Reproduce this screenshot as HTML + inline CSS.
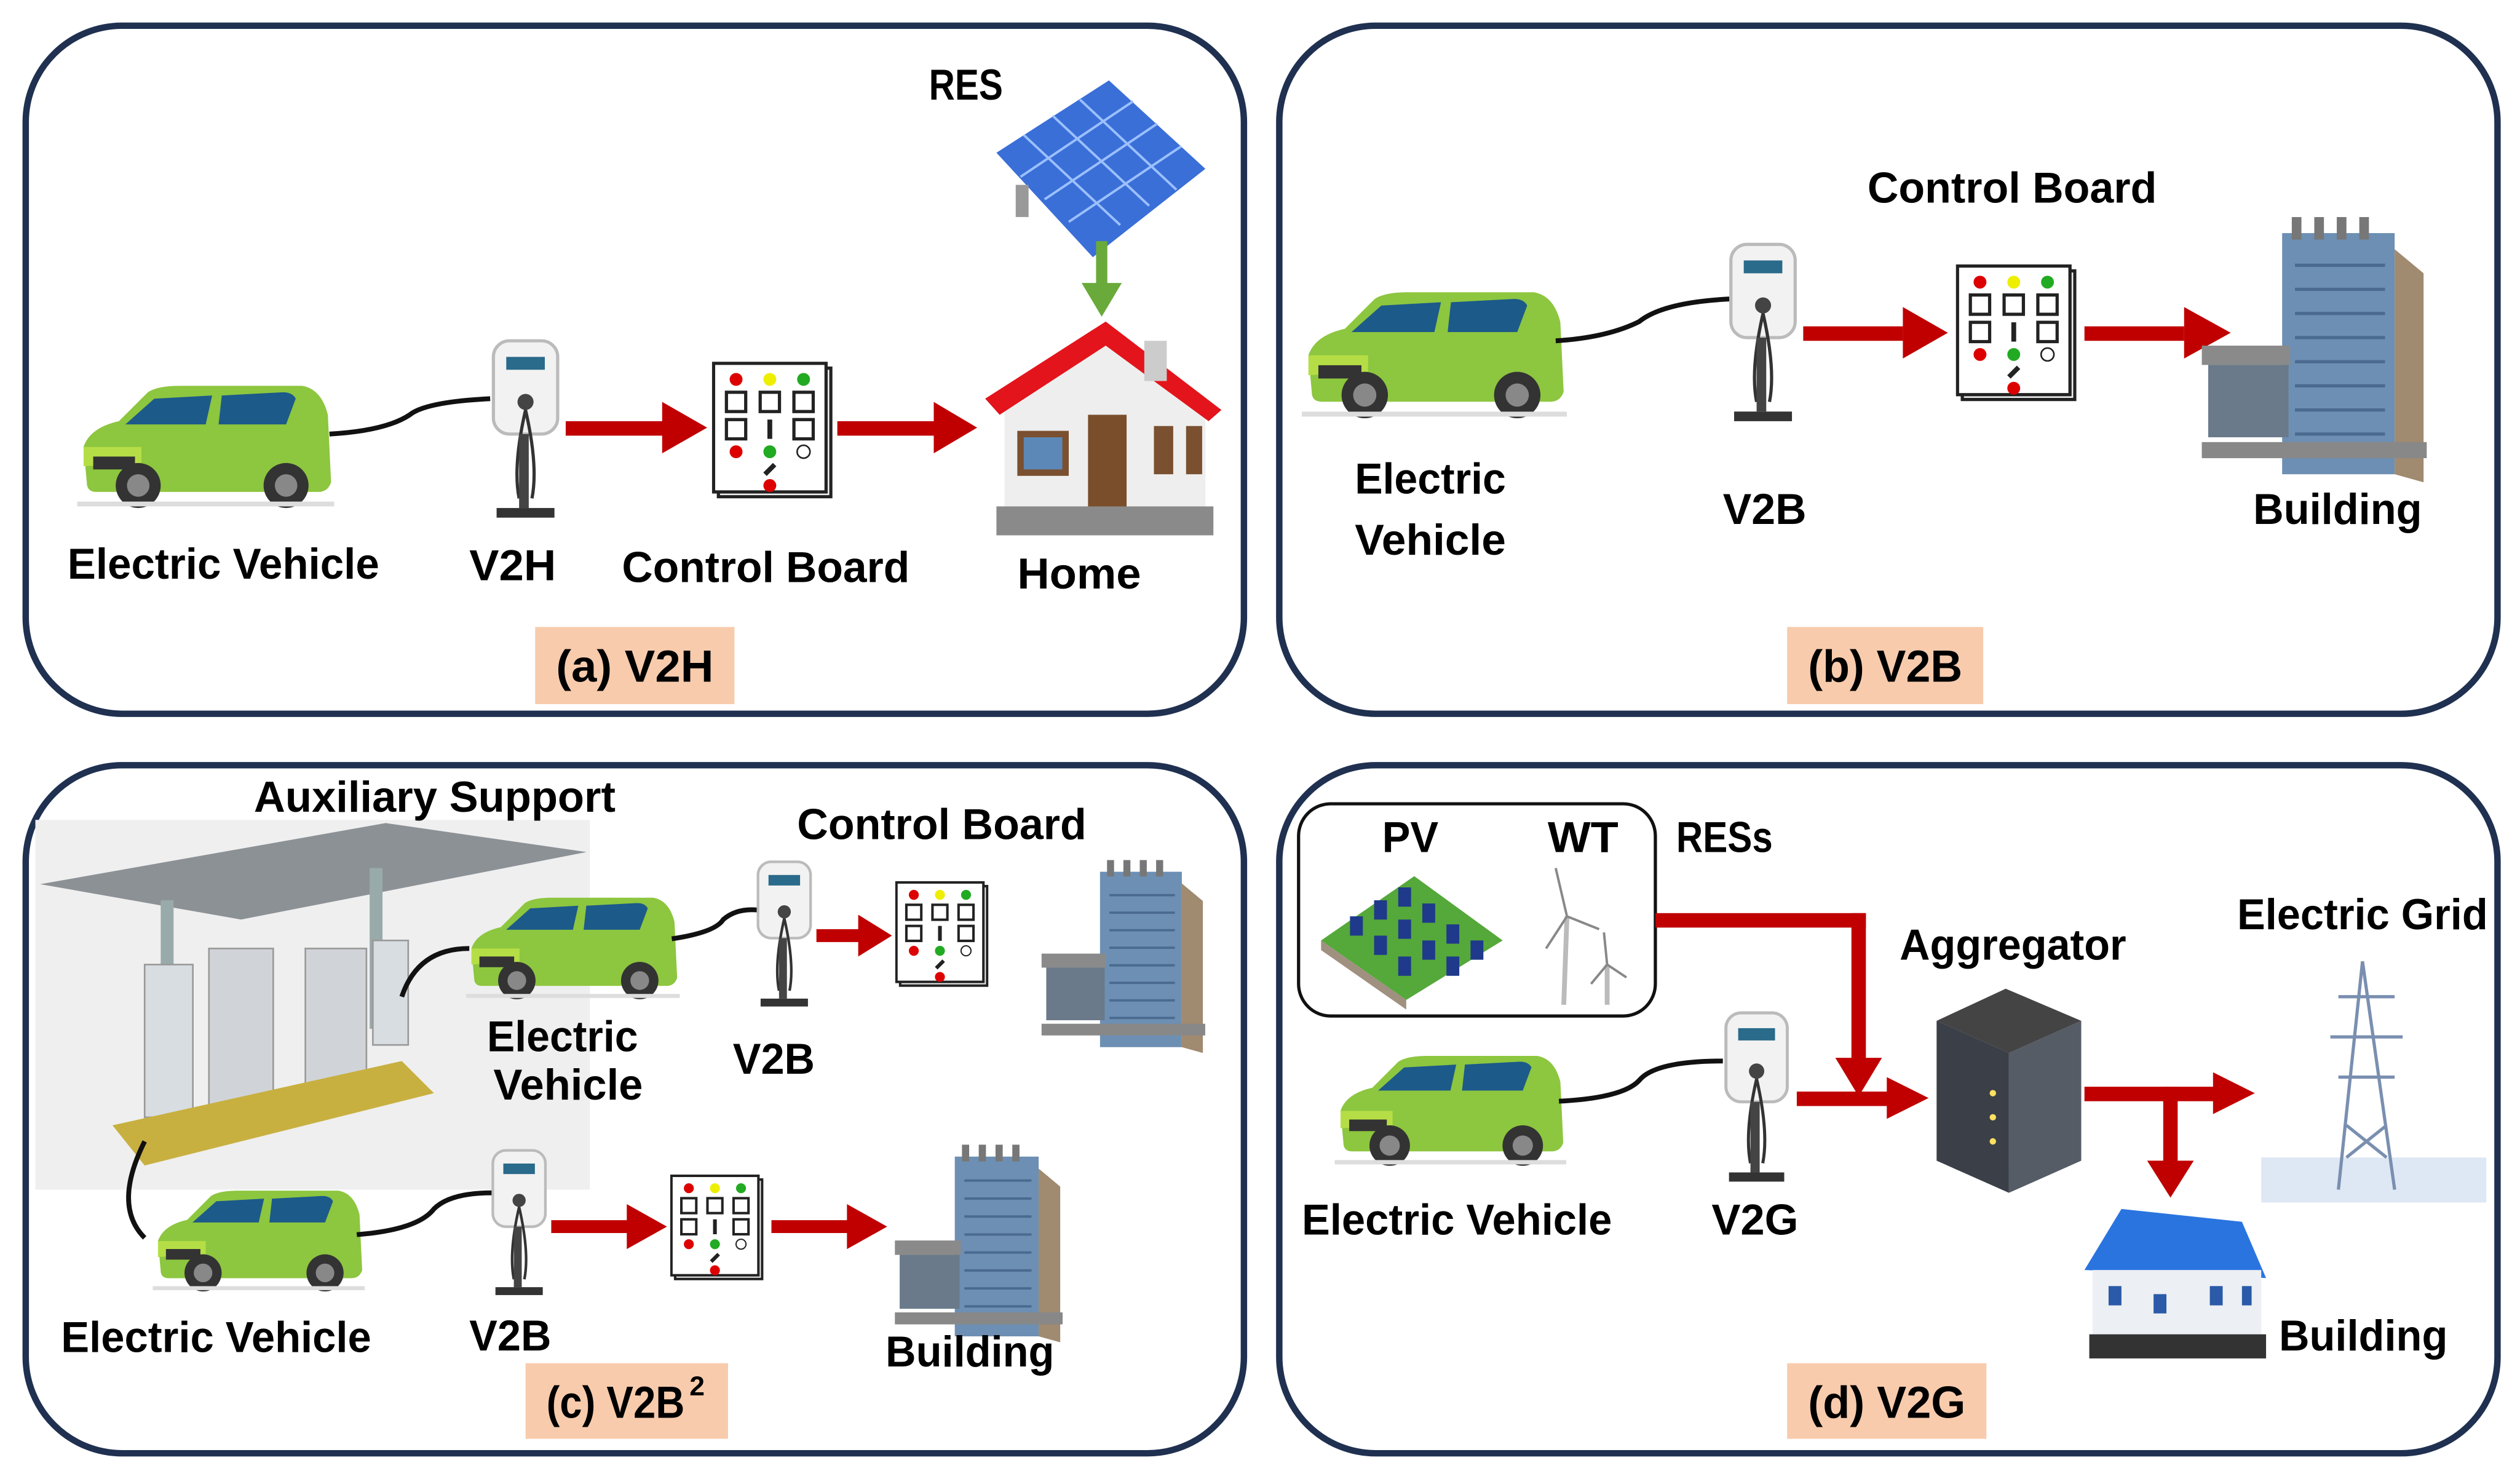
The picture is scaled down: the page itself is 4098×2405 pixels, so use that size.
<!DOCTYPE html>
<html><head><meta charset="utf-8"><style>
html,body{margin:0;padding:0;background:#fff;}
svg{display:block;}
text{font-family:"Liberation Sans",sans-serif;font-weight:bold;fill:#000;}
</style></head><body>
<svg width="4098" height="2405" viewBox="0 0 1568 920" preserveAspectRatio="none" xmlns="http://www.w3.org/2000/svg">
<defs>
<symbol id="car" viewBox="0 0 160 80">
 <path d="M6,62 L4,40 Q8,28 26,24 L44,6 Q50,2 64,2 L140,2 Q152,4 156,20 L158,62 Q156,68 150,68 L12,68 Q6,68 6,62Z" fill="#8dc63f"/>
 <path d="M48,10 L30,26 L80,26 L84,8 Z" fill="#1c5a8a"/>
 <path d="M90,8 L88,26 L130,26 L136,10 Q134,6 128,6Z" fill="#1c5a8a"/>
 <path d="M4,40 L40,40 L40,50 L4,52Z" fill="#b5de46"/>
 <rect x="10" y="46" width="26" height="8" fill="#333"/>
 <circle cx="38" cy="64" r="14" fill="#333"/><circle cx="38" cy="64" r="7" fill="#888"/>
 <circle cx="130" cy="64" r="14" fill="#333"/><circle cx="130" cy="64" r="7" fill="#888"/>
 <rect x="0" y="74" width="160" height="3" fill="#ddd"/>
</symbol>
<symbol id="charger" viewBox="0 0 44 115">
 <rect x="2" y="2" width="40" height="58" rx="10" fill="#f2f2f2" stroke="#bbb" stroke-width="2"/>
 <rect x="10" y="12" width="24" height="8" fill="#2a6a8a"/>
 <circle cx="22" cy="40" r="5" fill="#444"/>
 <path d="M22,45 Q14,80 18,100 M22,45 Q30,80 26,100" stroke="#333" stroke-width="2" fill="none"/>
 <rect x="18" y="60" width="6" height="46" fill="#444"/>
 <rect x="4" y="106" width="36" height="6" fill="#333"/>
</symbol>
<symbol id="board" viewBox="0 0 75 85">
 <rect x="4" y="4" width="70" height="80" fill="#eee" stroke="#222" stroke-width="2"/>
 <rect x="1" y="1" width="70" height="80" fill="#fff" stroke="#222" stroke-width="2"/>
 <circle cx="15" cy="11" r="4" fill="#d00"/><circle cx="36" cy="11" r="4" fill="#ee0"/><circle cx="57" cy="11" r="4" fill="#2a2"/>
 <rect x="9" y="19" width="12" height="12" fill="none" stroke="#222" stroke-width="2"/><rect x="30" y="19" width="12" height="12" fill="none" stroke="#222" stroke-width="2"/><rect x="51" y="19" width="12" height="12" fill="none" stroke="#222" stroke-width="2"/>
 <rect x="9" y="36" width="12" height="12" fill="none" stroke="#222" stroke-width="2"/><path d="M36,36 v12" stroke="#222" stroke-width="3"/><rect x="51" y="36" width="12" height="12" fill="none" stroke="#222" stroke-width="2"/>
 <circle cx="15" cy="56" r="4" fill="#d00"/><circle cx="36" cy="56" r="4" fill="#2a2"/><circle cx="57" cy="56" r="4" fill="#fff" stroke="#222"/>
 <path d="M33,70 l6,-6" stroke="#222" stroke-width="3"/><circle cx="36" cy="77" r="4" fill="#d00"/>
</symbol>
<symbol id="bldg" viewBox="0 0 140 165">
 <rect x="50" y="10" width="70" height="150" fill="#6d8fb3"/>
 <path d="M120,20 L138,35 L138,165 L120,160Z" fill="#a08a70"/>
 <rect x="56" y="0" width="6" height="14" fill="#777"/><rect x="70" y="0" width="6" height="14" fill="#777"/><rect x="84" y="0" width="6" height="14" fill="#777"/><rect x="98" y="0" width="6" height="14" fill="#777"/>
 <g stroke="#4a6a90" stroke-width="2"><path d="M58,30h56M58,45h56M58,60h56M58,75h56M58,90h56M58,105h56M58,120h56M58,135h56"/></g>
 <rect x="0" y="80" width="55" height="12" fill="#8a8a8a"/>
 <rect x="4" y="92" width="50" height="45" fill="#6a7a8a"/>
 <rect x="0" y="140" width="140" height="10" fill="#888"/>
</symbol>
</defs>

<!-- panels -->
<g fill="none" stroke="#1f3050" stroke-width="4">
<rect x="16" y="16" width="758" height="428" rx="60"/>
<rect x="796" y="16" width="758" height="428" rx="60"/>
<rect x="16" y="476" width="758" height="428" rx="60"/>
<rect x="796" y="476" width="758" height="428" rx="60"/>
</g>
<g fill="#f8cbad">
<rect x="333" y="390" width="124" height="48"/>
<rect x="1112" y="390" width="122" height="48"/>
<rect x="327" y="848" width="126" height="47"/>
<rect x="1112" y="848" width="124" height="47"/>
</g>
<g font-size="28">
<text x="346" y="424" textLength="98" lengthAdjust="spacingAndGlyphs">(a) V2H</text>
<text x="1125" y="424" textLength="96" lengthAdjust="spacingAndGlyphs">(b) V2B</text>
<text x="340" y="882" textLength="86" lengthAdjust="spacingAndGlyphs">(c) V2B</text>
<text x="429" y="868" font-size="17">2</text>
<text x="1125" y="882" textLength="98" lengthAdjust="spacingAndGlyphs">(d) V2G</text>
</g>

<!-- (a) -->
<use href="#car" x="48" y="238" width="160" height="80"/>
<path d="M205,270 Q240,268 255,258 Q265,250 305,248" stroke="#111" stroke-width="3" fill="none"/>
<use href="#charger" x="305" y="210" width="44" height="115"/>
<use href="#board" x="443" y="225" width="75" height="85"/>
<g fill="#c00000">
<rect x="352" y="262" width="62" height="9"/><polygon points="412,250 440,266 412,282"/>
<rect x="521" y="262" width="62" height="9"/><polygon points="581,250 608,266 581,282"/>
</g>
<!-- solar -->
<polygon points="620,95 690,50 750,105 680,160" fill="#3a6fd8"/>
<g stroke="#9cc0ff" stroke-width="1.5"><path d="M655,72 L715,128 M637,84 L697,140 M672,62 L732,118 M635,110 L705,63 M650,124 L720,77 M665,138 L735,91"/></g>
<rect x="632" y="115" width="8" height="20" fill="#999"/>
<rect x="682" y="150" width="7" height="28" fill="#6aaa3a"/><polygon points="673,176 698,176 685.5,197" fill="#6aaa3a"/>
<!-- house -->
<rect x="625" y="250" width="125" height="70" fill="#f0f0f0"/>
<polygon points="625,250 688,205 750,255 750,330 625,320" fill="#eee"/>
<polygon points="613,248 688,200 760,255 752,262 688,215 622,258" fill="#e3141b"/>
<rect x="712" y="212" width="14" height="25" fill="#ccc"/>
<rect x="633" y="268" width="32" height="28" fill="#7a5030"/><rect x="637" y="272" width="24" height="20" fill="#5c88b8"/>
<rect x="677" y="258" width="24" height="58" fill="#7a4e2a"/>
<rect x="718" y="265" width="12" height="30" fill="#7a5030"/><rect x="738" y="265" width="10" height="30" fill="#7a5030"/>
<rect x="620" y="315" width="135" height="18" fill="#8a8a8a"/>
<g font-size="27">
<text x="578" y="62" textLength="46" lengthAdjust="spacingAndGlyphs">RES</text>
<text x="42" y="360" textLength="194" lengthAdjust="spacingAndGlyphs">Electric Vehicle</text>
<text x="292" y="361" textLength="54" lengthAdjust="spacingAndGlyphs">V2H</text>
<text x="387" y="362" textLength="179" lengthAdjust="spacingAndGlyphs">Control Board</text>
<text x="633" y="366" textLength="77" lengthAdjust="spacingAndGlyphs">Home</text>
</g>

<!-- (b) -->
<use href="#car" x="810" y="178" width="165" height="86"/>
<path d="M968,212 Q1000,210 1020,200 Q1035,188 1076,186" stroke="#111" stroke-width="3" fill="none"/>
<use href="#charger" x="1075" y="140" width="44" height="135"/>
<use href="#board" x="1217" y="157" width="75" height="100"/>
<g fill="#c00000">
<rect x="1122" y="203" width="62" height="9"/><polygon points="1184,191 1212,207 1184,223"/>
<rect x="1297" y="203" width="62" height="9"/><polygon points="1359,191 1388,207 1359,223"/>
</g>
<use href="#bldg" x="1370" y="135" width="140" height="165"/>
<g font-size="27">
<text x="1162" y="126" textLength="180" lengthAdjust="spacingAndGlyphs">Control Board</text>
<text x="843" y="307" textLength="94" lengthAdjust="spacingAndGlyphs">Electric</text>
<text x="843" y="345" textLength="94" lengthAdjust="spacingAndGlyphs">Vehicle</text>
<text x="1072" y="326" textLength="52" lengthAdjust="spacingAndGlyphs">V2B</text>
<text x="1402" y="326" textLength="105" lengthAdjust="spacingAndGlyphs">Building</text>
</g>

<!-- (c) -->
<rect x="22" y="510" width="345" height="230" fill="#efefef"/>
<polygon points="25,550 240,512 365,530 150,572" fill="#8c9196"/>
<rect x="100" y="560" width="8" height="100" fill="#9aa"/><rect x="230" y="540" width="8" height="100" fill="#9aa"/>
<rect x="90" y="600" width="30" height="95" fill="#d8dde2" stroke="#999"/>
<rect x="130" y="590" width="40" height="100" fill="#d0d4d8" stroke="#999"/>
<rect x="190" y="590" width="38" height="95" fill="#d0d4d8" stroke="#999"/>
<rect x="232" y="585" width="22" height="65" fill="#d8dde2" stroke="#999"/>
<polygon points="70,700 250,660 270,680 90,725" fill="#c8b040"/>
<path d="M90,710 Q70,750 90,770" stroke="#111" stroke-width="3" fill="none"/>
<path d="M250,620 Q260,590 292,590" stroke="#111" stroke-width="3" fill="none"/>
<use href="#car" x="290" y="556" width="133" height="68"/>
<path d="M418,584 Q445,580 450,572 Q458,565 471,566" stroke="#111" stroke-width="3" fill="none"/>
<use href="#charger" x="470" y="533" width="36" height="97"/>
<use href="#board" x="557" y="545" width="58" height="72"/>
<g fill="#c00000"><rect x="508" y="578" width="28" height="8"/><polygon points="534,569 555,582 534,595"/></g>
<use href="#bldg" x="630" y="535" width="138" height="120"/>
<use href="#car" x="95" y="738" width="132" height="68"/>
<path d="M222,768 Q260,765 270,752 Q280,742 306,742" stroke="#111" stroke-width="3" fill="none"/>
<use href="#charger" x="305" y="712" width="36" height="98"/>
<use href="#board" x="417" y="727" width="58" height="73"/>
<g fill="#c00000">
<rect x="343" y="759" width="48" height="8"/><polygon points="390,749 415,763 390,777"/>
<rect x="480" y="759" width="48" height="8"/><polygon points="527,749 552,763 527,777"/>
</g>
<use href="#bldg" x="540" y="712" width="138" height="123"/>
<g font-size="27">
<text x="158" y="505" textLength="225" lengthAdjust="spacingAndGlyphs">Auxiliary Support</text>
<text x="496" y="522" textLength="180" lengthAdjust="spacingAndGlyphs">Control Board</text>
<text x="303" y="654" textLength="94" lengthAdjust="spacingAndGlyphs">Electric</text>
<text x="307" y="684" textLength="93" lengthAdjust="spacingAndGlyphs">Vehicle</text>
<text x="456" y="668" textLength="51" lengthAdjust="spacingAndGlyphs">V2B</text>
<text x="38" y="841" textLength="193" lengthAdjust="spacingAndGlyphs">Electric Vehicle</text>
<text x="292" y="840" textLength="51" lengthAdjust="spacingAndGlyphs">V2B</text>
<text x="551" y="850" textLength="105" lengthAdjust="spacingAndGlyphs">Building</text>
</g>

<!-- (d) -->
<rect x="808" y="500" width="222" height="132" rx="20" fill="none" stroke="#111" stroke-width="2"/>
<polygon points="822,585 880,545 935,585 875,622" fill="#55a83a"/>
<polygon points="822,585 875,622 875,628 822,591" fill="#a09080"/>
<g fill="#1f3a8a">
<rect x="840" y="570" width="8" height="12"/><rect x="855" y="560" width="8" height="12"/><rect x="870" y="552" width="8" height="12"/>
<rect x="855" y="582" width="8" height="12"/><rect x="870" y="572" width="8" height="12"/><rect x="885" y="562" width="8" height="12"/>
<rect x="870" y="595" width="8" height="12"/><rect x="885" y="585" width="8" height="12"/><rect x="900" y="575" width="8" height="12"/>
<rect x="900" y="595" width="8" height="12"/><rect x="915" y="585" width="8" height="12"/>
</g>
<g stroke="#bbb" fill="none" stroke-width="3">
<path d="M975,570 L973,625"/><path d="M1000,600 L1000,625"/>
</g>
<g stroke="#888" fill="none" stroke-width="1.5">
<path d="M975,570 L968,540 M975,570 L995,578 M975,570 L962,590"/>
<path d="M1000,600 L998,580 M1000,600 L1012,608 M1000,600 L990,612"/>
</g>
<use href="#car" x="825" y="655" width="155" height="72"/>
<path d="M970,685 Q1010,683 1020,672 Q1030,660 1072,660" stroke="#111" stroke-width="3" fill="none"/>
<use href="#charger" x="1072" y="628" width="42" height="110"/>
<g fill="#c00000">
<rect x="1030" y="568" width="131" height="9"/>
<rect x="1152" y="568" width="9" height="92"/><polygon points="1142,658 1171,658 1156.5,682"/>
<rect x="1118" y="679" width="58" height="9"/><polygon points="1174,670 1200,683 1174,696"/>
<rect x="1297" y="676" width="82" height="9"/><polygon points="1377,667 1403,680 1377,693"/>
<rect x="1346" y="676" width="9" height="50"/><polygon points="1336,722 1365,722 1350.5,745"/>
</g>
<polygon points="1205,635 1248,615 1295,635 1250,655" fill="#444"/>
<polygon points="1205,635 1250,655 1250,742 1205,722" fill="#3a3f48"/>
<polygon points="1250,655 1295,635 1295,722 1250,742" fill="#555c66"/>
<g fill="#ffe060"><circle cx="1240" cy="680" r="2"/><circle cx="1240" cy="695" r="2"/><circle cx="1240" cy="710" r="2"/></g>
<rect x="1407" y="720" width="140" height="28" fill="#dde8f4"/>
<g stroke="#7a8fb0" fill="none" stroke-width="2">
<path d="M1470,598 L1455,740 M1470,598 L1490,740 M1455,620 h35 M1450,645 h45 M1455,670 h35 M1460,700 L1485,720 M1485,700 L1460,720"/>
</g>
<polygon points="1297,790 1320,752 1395,760 1410,795" fill="#2a74e0"/>
<rect x="1302" y="790" width="105" height="45" fill="#eceff3"/>
<rect x="1300" y="830" width="110" height="15" fill="#333"/>
<g fill="#2a5aa8"><rect x="1312" y="800" width="8" height="12"/><rect x="1340" y="805" width="8" height="12"/><rect x="1375" y="800" width="8" height="12"/><rect x="1395" y="800" width="6" height="12"/></g>
<g font-size="27">
<text x="860" y="530" textLength="35" lengthAdjust="spacingAndGlyphs">PV</text>
<text x="963" y="530" textLength="44" lengthAdjust="spacingAndGlyphs">WT</text>
<text x="1043" y="530" textLength="60" lengthAdjust="spacingAndGlyphs">RESs</text>
<text x="1182" y="597" textLength="141" lengthAdjust="spacingAndGlyphs">Aggregator</text>
<text x="1392" y="578" textLength="156" lengthAdjust="spacingAndGlyphs">Electric Grid</text>
<text x="810" y="768" textLength="193" lengthAdjust="spacingAndGlyphs">Electric Vehicle</text>
<text x="1065" y="768" textLength="54" lengthAdjust="spacingAndGlyphs">V2G</text>
<text x="1418" y="840" textLength="105" lengthAdjust="spacingAndGlyphs">Building</text>
</g>
</svg>
</body></html>
